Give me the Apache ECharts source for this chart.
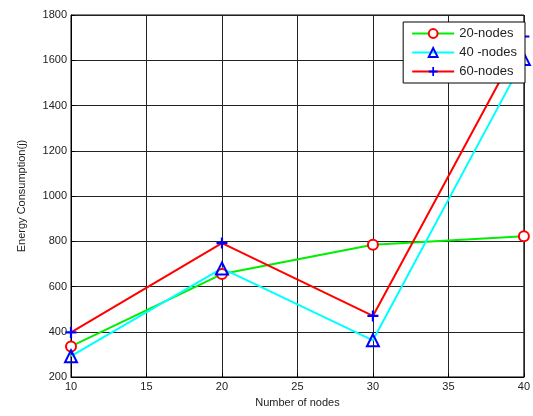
<!DOCTYPE html>
<html>
<head>
<meta charset="UTF-8">
<title>Energy Consumption</title>
<script src="https://cdn.jsdelivr.net/npm/echarts@6/dist/echarts.min.js"></script>
<style>
  html, body { margin: 0; padding: 0; background: #fff; }
  #chart { width: 533px; height: 416px; }
</style>
</head>
<body>
<div id="chart"></div>
<script>
  // data
  var nodes = [10, 20, 30, 40];
  var nodes20 = [335, 655, 785, 822];
  var nodes40 = [292, 680, 362, 1605];
  var nodes60 = [397, 792, 470, 1705];
  var names = ['20-nodes', '40 -nodes', '60-nodes'];

  function pairs(ys) {
    return nodes.map(function (x, i) { return [x, ys[i]]; });
  }

  var plus = 'path://M4,0 L6,0 L6,4 L10,4 L10,6 L6,6 L6,10 L4,10 L4,6 L0,6 L0,4 L4,4 Z';
  var txt = { color: '#222', fontSize: 11, fontFamily: 'Liberation Sans, Arial, sans-serif' };
  var plain = function (v) { return String(v); };

  var chart = echarts.init(document.getElementById('chart'));
  chart.setOption({
    animation: false,
    grid: {
      left: 71, right: 2, top: 15, bottom: 39,
      show: true, borderColor: '#000', borderWidth: 1
    },
    legend: {
      orient: 'vertical',
      right: 8, top: 22,
      data: names,
      backgroundColor: '#fff',
      borderColor: '#000', borderWidth: 1,
      padding: [5, 8, 5, 8],
      itemGap: 6,
      itemWidth: 42, itemHeight: 11,
      textStyle: { color: '#222', fontSize: 13, fontFamily: 'Liberation Sans, Arial, sans-serif' }
    },
    xAxis: {
      type: 'value', min: 10, max: 40, interval: 5,
      name: 'Number of nodes', nameLocation: 'middle', nameGap: 20,
      nameTextStyle: txt,
      axisLine: { show: true, lineStyle: { color: '#000' } },
      axisTick: { inside: true, length: 4, lineStyle: { color: '#000' } },
      axisLabel: Object.assign({ margin: 4, formatter: plain }, txt),
      splitLine: { show: true, lineStyle: { color: '#222', width: 1 } }
    },
    yAxis: {
      type: 'value', min: 200, max: 1800, interval: 200,
      name: 'Energy Consumption(j)', nameLocation: 'middle', nameGap: 44,
      nameTextStyle: txt,
      axisLine: { show: true, lineStyle: { color: '#000' } },
      axisTick: { inside: true, length: 4, lineStyle: { color: '#000' } },
      axisLabel: Object.assign({ margin: 4, formatter: plain }, txt),
      splitLine: { show: true, lineStyle: { color: '#222', width: 1 } }
    },
    series: [
      {
        name: names[0], type: 'line', data: pairs(nodes20),
        lineStyle: { color: '#00ee00', width: 2 },
        itemStyle: { color: '#fff', borderColor: '#ff0000', borderWidth: 2 },
        color: '#00ee00',
        symbol: 'circle', symbolSize: 10, showAllSymbol: true
      },
      {
        name: names[1], type: 'line', data: pairs(nodes40),
        lineStyle: { color: '#00ffff', width: 2 },
        itemStyle: { color: 'rgba(255,255,255,0)', borderColor: '#0000ff', borderWidth: 2 },
        color: '#00ffff',
        symbol: 'triangle', symbolSize: 12, showAllSymbol: true
      },
      {
        name: names[2], type: 'line', data: pairs(nodes60),
        lineStyle: { color: '#ff0000', width: 2 },
        itemStyle: { color: '#0000ff', borderWidth: 0 },
        color: '#ff0000',
        symbol: plus, symbolSize: 11, showAllSymbol: true
      }
    ]
  });
</script>
</body>
</html>
